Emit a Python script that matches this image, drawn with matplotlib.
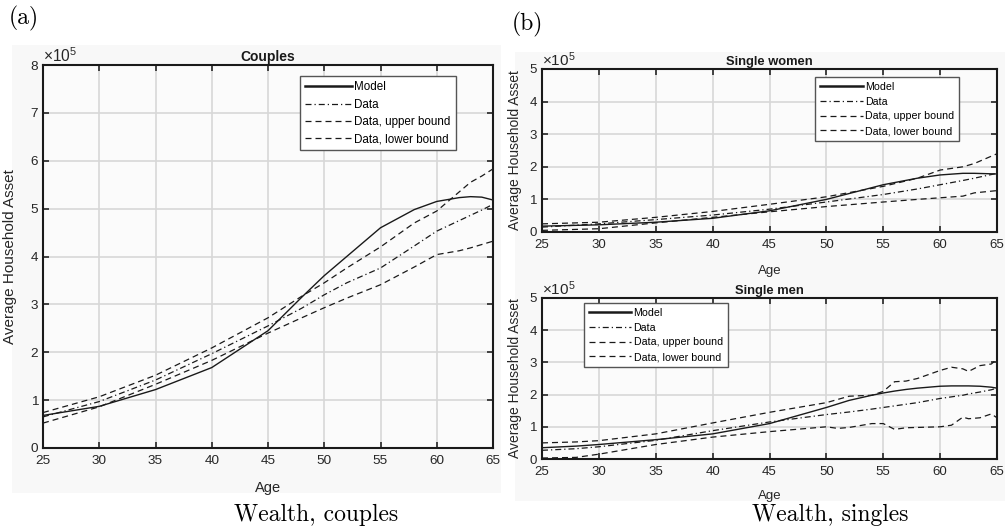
import matplotlib
matplotlib.use("Agg")
import matplotlib.pyplot as plt
from matplotlib.patches import Rectangle

plt.rcParams["font.family"] = ["Liberation Sans", "DejaVu Sans"]
plt.rcParams["mathtext.fontset"] = "custom"
plt.rcParams["mathtext.rm"] = "Liberation Sans"

# =========================
# DATA (values in units of 1e5)
# =========================
# Couples
c_age = [25, 30, 35, 40, 45, 48, 50, 52, 55, 58, 60, 62, 63, 64, 65]
c_model = [0.68, 0.87, 1.22, 1.68, 2.45, 3.15, 3.6, 4.0, 4.6, 4.98, 5.15, 5.23, 5.25, 5.24, 5.18]
c_data = [0.65, 0.97, 1.42, 1.97, 2.55, 2.92, 3.2, 3.45, 3.76, 4.22, 4.53, 4.75, 4.86, 4.97, 5.09]
c_upper = [0.74, 1.07, 1.52, 2.09, 2.72, 3.17, 3.45, 3.76, 4.2, 4.7, 4.95, 5.35, 5.55, 5.68, 5.83]
c_lower = [0.52, 0.86, 1.33, 1.83, 2.4, 2.72, 2.93, 3.13, 3.41, 3.78, 4.04, 4.12, 4.18, 4.25, 4.32]

# Single women
w_age = [25, 30, 35, 40, 45, 50, 55, 58, 60, 62, 63, 65]
w_model = [0.18, 0.22, 0.30, 0.42, 0.65, 1.0, 1.45, 1.65, 1.75, 1.80, 1.80, 1.78]
w_data = [0.15, 0.25, 0.38, 0.52, 0.70, 0.92, 1.15, 1.32, 1.45, 1.58, 1.65, 1.80]
w_upper = [0.25, 0.30, 0.45, 0.63, 0.85, 1.08, 1.40, 1.65, 1.90, 2.00, 2.10, 2.40]
w_lower = [0.05, 0.10, 0.28, 0.45, 0.62, 0.78, 0.92, 1.00, 1.05, 1.10, 1.20, 1.27]

# Single men
m_age = [25, 28, 30, 35, 40, 45, 50, 51, 52, 54, 55, 56, 57, 58, 60, 61, 62, 62.5, 63.5, 64.5, 65]
m_model = [0.35, 0.40, 0.45, 0.60, 0.78, 1.10, 1.60, 1.71, 1.82, 1.98, 2.05, 2.11, 2.16, 2.20, 2.26, 2.27, 2.27, 2.27, 2.26, 2.23, 2.20]
m_data = [0.27, 0.32, 0.38, 0.58, 0.88, 1.15, 1.38, 1.42, 1.46, 1.55, 1.60, 1.65, 1.70, 1.75, 1.88, 1.93, 1.98, 2.02, 2.08, 2.15, 2.20]
m_upper = [0.50, 0.53, 0.57, 0.78, 1.12, 1.45, 1.75, 1.85, 1.95, 1.98, 2.10, 2.40, 2.42, 2.50, 2.75, 2.85, 2.80, 2.72, 2.90, 2.95, 3.10]
m_lower = [0.03, 0.05, 0.15, 0.45, 0.68, 0.85, 1.00, 0.95, 0.98, 1.10, 1.10, 0.92, 0.97, 0.98, 1.00, 1.05, 1.30, 1.25, 1.28, 1.40, 1.28]

labels = ["Model", "Data", "Data, upper bound", "Data, lower bound"]
ages = [25, 30, 35, 40, 45, 50, 55, 60, 65]

# =========================
# FIGURE
# =========================
W, H = 1005, 529
fig = plt.figure(figsize=(W / 100, H / 100), dpi=100)
fig.patch.set_facecolor("white")


def px_rect(x0, y0, x1, y1):
    return [x0 / W, 1 - y1 / H, (x1 - x0) / W, (y1 - y0) / H]


# light grey MATLAB figure panels
for r in [(12, 45, 501, 493), (515, 52, 1005, 501)]:
    x0, y0, x1, y1 = r
    fig.patches.append(Rectangle((x0 / W, 1 - y1 / H), (x1 - x0) / W, (y1 - y0) / H,
                                 transform=fig.transFigure, facecolor="#f8f8f8",
                                 edgecolor="none", zorder=-5))

DASH = (4.8, 3.2)
DASHDOT = (4.8, 2.4, 1.0, 2.4)


def draw(ax, age, model, data, upper, lower, ymax, title, leg_loc, leg_anchor,
         fs_tick, fs_lab, fs_title, fs_leg):
    ax.set_facecolor("#fbfbfb")
    l1, = ax.plot(age, model, color="#1a1a1a", lw=1.0)
    l2, = ax.plot(age, data, color="#1a1a1a", lw=0.9, dashes=DASHDOT)
    l3, = ax.plot(age, upper, color="#1a1a1a", lw=0.9, dashes=DASH)
    l4, = ax.plot(age, lower, color="#1a1a1a", lw=0.9, dashes=DASH)
    ax.set_xlim(25, 65)
    ax.set_ylim(0, ymax)
    ax.set_xticks(ages)
    ax.set_yticks(range(0, ymax + 1))
    ax.grid(True, color="#d8d8d8", lw=1.2)
    ax.set_axisbelow(True)
    ax.tick_params(direction="in", top=True, right=True, length=4, width=1.2,
                   labelsize=fs_tick, colors="#262626")
    ax.tick_params(axis="x", pad=5)
    ax.tick_params(axis="y", pad=3.5)
    for s in ax.spines.values():
        s.set_linewidth(1.5)
        s.set_color("#1a1a1a")
    ax.set_title(title, fontsize=fs_title, fontweight="bold", pad=3, color="#1a1a1a")
    ax.set_xlabel("Age", fontsize=fs_lab - 0.5, color="#262626")
    ax.set_ylabel("Average Household Asset", fontsize=fs_lab, color="#262626")
    ax.text(0.0, 1.0, r"$\times\mathregular{10^{5}}$", transform=ax.transAxes,
            fontsize=fs_tick + 1.5, ha="left", va="bottom", color="#262626")
    leg = ax.legend([l1, l2, l3, l4], labels, loc=leg_loc, bbox_to_anchor=leg_anchor,
                    borderaxespad=0, fontsize=fs_leg, handlelength=4.0, handletextpad=0.2,
                    labelspacing=0.45, borderpad=0.45, fancybox=False, framealpha=1,
                    edgecolor="#555555", facecolor="white")
    leg.get_frame().set_linewidth(1.0)
    leg.legend_handles[0].set_linewidth(1.8)
    return ax


ax1 = fig.add_axes(px_rect(43, 65, 493, 448))
draw(ax1, c_age, c_model, c_data, c_upper, c_lower, 8, "Couples",
     "upper right", (0.918, 0.971), 9.7, 11, 10, 8.4)
ax1.xaxis.set_label_coords(0.5, -0.085)
ax1.yaxis.set_label_coords(-0.058, 0.5)

ax2 = fig.add_axes(px_rect(542, 69, 997, 232))
draw(ax2, w_age, w_model, w_data, w_upper, w_lower, 5, "Single women",
     "upper right", (0.916, 0.951), 9.5, 10, 9.3, 7.7)
ax2.xaxis.set_label_coords(0.5, -0.2)
ax2.yaxis.set_label_coords(-0.044, 0.5)

ax3 = fig.add_axes(px_rect(542, 298, 997, 459))
draw(ax3, m_age, m_model, m_data, m_upper, m_lower, 5, "Single men",
     "upper left", (0.092, 0.969), 9.5, 10, 9.3, 7.7)
ax3.xaxis.set_label_coords(0.5, -0.19)
ax3.yaxis.set_label_coords(-0.044, 0.5)

# panel labels and captions (serif, LaTeX-like)
serif = ["cmr10", "DejaVu Serif"]
fig.text(24 / W, 1 - 18 / H, "(a)", family=serif, fontsize=17, ha="center", va="center")
fig.text(527 / W, 1 - 24 / H, "(b)", family=serif, fontsize=17, ha="center", va="center")
fig.text(316 / W, 1 - 515 / H, "Wealth, couples", family=serif, fontsize=17,
         ha="center", va="center")
fig.text(830 / W, 1 - 515 / H, "Wealth, singles", family=serif, fontsize=17,
         ha="center", va="center")

fig.savefig("out.png", dpi=100)
